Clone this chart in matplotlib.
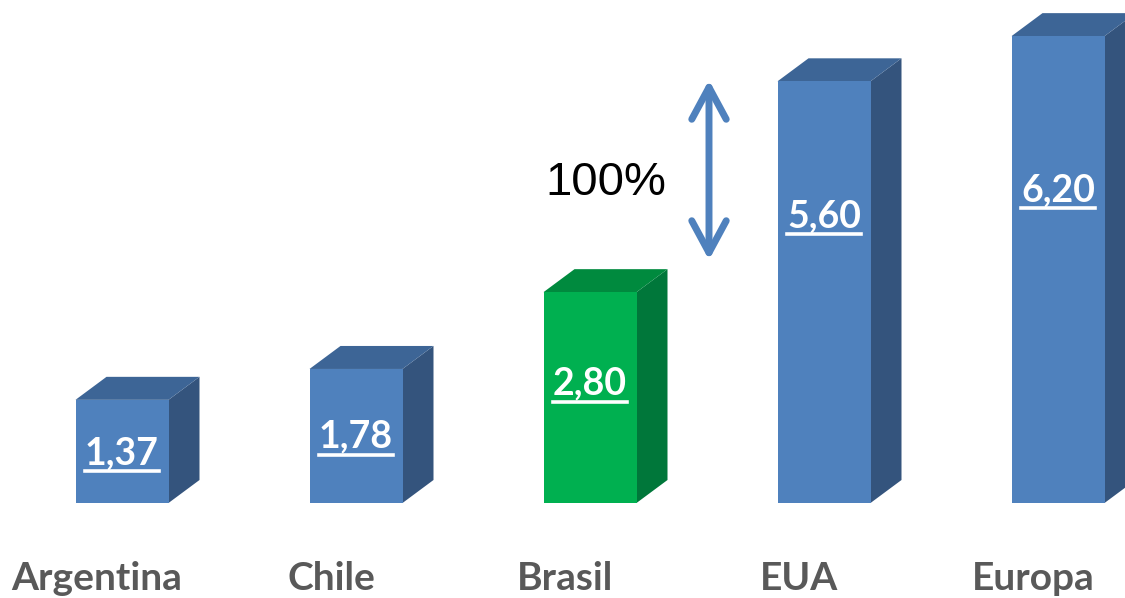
import matplotlib
matplotlib.use("Agg")
import matplotlib.pyplot as plt
from matplotlib.patches import Polygon, Rectangle, FancyArrowPatch
from matplotlib.lines import Line2D

categories = ["Argentina", "Chile", "Brasil", "EUA", "Europa"]
values = [1.37, 1.78, 2.80, 5.60, 6.20]
value_labels = ["1,37", "1,78", "2,80", "5,60", "6,20"]
highlight = "Brasil"
annotation_text = "100%"

# style
W, H, DPI = 1125, 598, 100
px_per_unit_y = 75.3
px_per_unit_x = 234.0
base_px = 95.0  # baseline from bottom in pixels
first_center_px = 122.0
bar_w = 93 / px_per_unit_x
dx = 31 / px_per_unit_x
dy = 23 / px_per_unit_y
label_frac = [0.48, 0.495, 0.565, 0.68, 0.67]

blue = dict(front="#4F81BD", top="#3D6596", side="#34547D")
green = dict(front="#00B050", top="#008A3E", side="#00773A")

fig = plt.figure(figsize=(W / DPI, H / DPI), dpi=DPI)
ax = fig.add_axes([0, 0, 1, 1])
ax.set_xlim(-first_center_px / px_per_unit_x, (W - first_center_px) / px_per_unit_x)
ax.set_ylim(-base_px / px_per_unit_y, (H - base_px) / px_per_unit_y)
ax.axis("off")

value_texts = []
for i, (cat, v, lab, fr) in enumerate(zip(categories, values, value_labels, label_frac)):
    c = green if cat == highlight else blue
    x0 = i - bar_w / 2
    x1 = i + bar_w / 2
    # side face
    ax.add_patch(Polygon([(x1, 0), (x1 + dx, dy), (x1 + dx, v + dy), (x1, v)],
                         closed=True, facecolor=c["side"], edgecolor="none", zorder=2))
    # top face
    ax.add_patch(Polygon([(x0, v), (x1, v), (x1 + dx, v + dy), (x0 + dx, v + dy)],
                         closed=True, facecolor=c["top"], edgecolor="none", zorder=2))
    # front face
    ax.add_patch(Rectangle((x0, 0), bar_w, v, facecolor=c["front"], edgecolor="none", zorder=3))
    t = ax.text(i, v * fr, lab, ha="center", va="center", color="white",
                fontsize=27, fontweight="bold", family="Lato", zorder=5)
    value_texts.append(t)
    ax.text(i - 25 / px_per_unit_x, -1.0, cat, ha="center", va="center", color="#595959",
            fontsize=28, fontweight="bold", family="Lato")

# double-headed arrow between Brasil and EUA
ax_x = (709 - first_center_px) / px_per_unit_x
y_top = (H - 80 - base_px) / px_per_unit_y
y_bot = (H - 260 - base_px) / px_per_unit_y
arr = FancyArrowPatch((ax_x, y_bot), (ax_x, y_top), arrowstyle="<->,head_length=1.15,head_width=0.62",
                      color="#4F81BD", lw=5, mutation_scale=20, capstyle="round",
                      joinstyle="round", shrinkA=0, shrinkB=0, zorder=4)
ax.add_patch(arr)
ax.text((606 - first_center_px) / px_per_unit_x, (H - 183 - base_px) / px_per_unit_y,
        annotation_text, ha="center", va="center", fontsize=34, color="black",
        family="Liberation Sans")

# underline value labels
fig.canvas.draw()
r = fig.canvas.get_renderer()
for t in value_texts:
    bb = t.get_window_extent(renderer=r)
    y = bb.y0 - 1
    fig.add_artist(Line2D([bb.x0 / W, bb.x1 / W], [y / H, y / H], transform=fig.transFigure,
                          color="white", lw=2.6, zorder=6))

fig.savefig("out.png", dpi=DPI)
